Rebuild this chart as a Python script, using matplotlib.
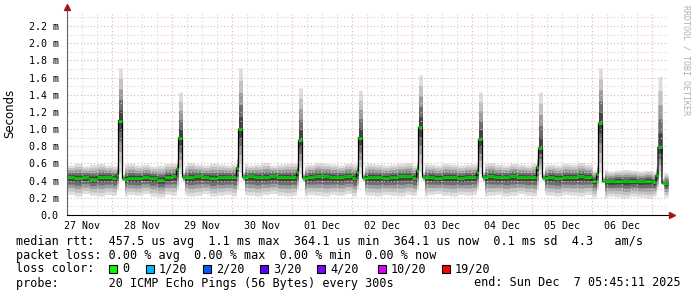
import numpy as np
import matplotlib
matplotlib.use("Agg")
import matplotlib.pyplot as plt
from matplotlib.patches import Rectangle

# hours counted from 27 Nov 00:00, median rtt in ms
t_start = 6.0
t_end = 246.4
step_h = 3.0

base_med = [0.44, 0.43, 0.44, 0.42, 0.44, 0.44,
            0.43, 0.42, 0.43, 0.43, 0.44, 0.43, 0.41, 0.44,
            0.45, 0.44, 0.44, 0.45, 0.44, 0.43, 0.44, 0.44,
            0.44, 0.44, 0.45, 0.44, 0.44, 0.45, 0.44, 0.44,
            0.44, 0.43, 0.44, 0.45, 0.45, 0.44, 0.44, 0.45,
            0.43, 0.43, 0.44, 0.44, 0.43, 0.44, 0.45, 0.45,
            0.43, 0.44, 0.44, 0.43, 0.44, 0.44, 0.43, 0.44,
            0.44, 0.44, 0.45, 0.44, 0.44, 0.45, 0.44, 0.44,
            0.44, 0.43, 0.44, 0.43, 0.44, 0.44, 0.45, 0.44,
            0.40, 0.39, 0.39, 0.40, 0.39, 0.40, 0.39, 0.40,
            0.38, 0.37]
base_hi = [0.58, 0.60, 0.57, 0.59, 0.60, 0.58,
           0.57, 0.59, 0.60, 0.58, 0.59, 0.57, 0.58, 0.60,
           0.60, 0.58, 0.61, 0.59, 0.58, 0.60, 0.59, 0.58,
           0.59, 0.60, 0.58, 0.59, 0.61, 0.58, 0.59, 0.60,
           0.60, 0.58, 0.59, 0.61, 0.60, 0.59, 0.58, 0.60,
           0.59, 0.58, 0.60, 0.59, 0.58, 0.59, 0.60, 0.61,
           0.58, 0.60, 0.59, 0.58, 0.60, 0.59, 0.58, 0.59,
           0.59, 0.60, 0.61, 0.59, 0.58, 0.60, 0.59, 0.58,
           0.60, 0.58, 0.59, 0.58, 0.60, 0.59, 0.61, 0.59,
           0.52, 0.53, 0.51, 0.52, 0.53, 0.52, 0.51, 0.52,
           0.50, 0.49]
base_lo = [0.24, 0.22, 0.25, 0.23, 0.22, 0.24,
           0.23, 0.22, 0.24, 0.23, 0.25, 0.22, 0.21, 0.24,
           0.23, 0.24, 0.22, 0.23, 0.25, 0.22, 0.23, 0.24,
           0.22, 0.24, 0.23, 0.22, 0.24, 0.25, 0.23, 0.22,
           0.23, 0.22, 0.24, 0.23, 0.22, 0.24, 0.23, 0.25,
           0.22, 0.24, 0.23, 0.22, 0.24, 0.23, 0.22, 0.24,
           0.23, 0.22, 0.24, 0.25, 0.23, 0.22, 0.24, 0.23,
           0.24, 0.22, 0.23, 0.24, 0.22, 0.23, 0.25, 0.23,
           0.22, 0.24, 0.23, 0.22, 0.24, 0.23, 0.22, 0.24,
           0.21, 0.20, 0.22, 0.21, 0.20, 0.22, 0.21, 0.20,
           0.22, 0.21]

# daily spikes shortly after midnight
spike_t = [26.6, 50.6, 74.6, 98.6, 122.6, 146.6, 170.6, 194.6, 218.6, 242.4]
spike_med = [1.10, 0.90, 1.00, 0.87, 0.90, 1.02, 0.88, 0.78, 1.07, 0.79]
spike_hi = [1.71, 1.43, 1.71, 1.48, 1.45, 1.63, 1.43, 1.43, 1.71, 1.61]
spike_lo = [0.50, 0.48, 0.50, 0.48, 0.48, 0.50, 0.48, 0.47, 0.50, 0.45]
spike_pre = [0.47, 0.535, 0.55, 0.50, 0.50, 0.52, 0.50, 0.56, 0.48, 0.46]
post_lo = [0.40, 0.39, 0.40, 0.39, 0.40, 0.40, 0.39, 0.40, 0.38, 0.36]

day_labels = ['27 Nov', '28 Nov', '29 Nov', '30 Nov', '01 Dec',
              '02 Dec', '03 Dec', '04 Dec', '05 Dec', '06 Dec']

loss_labels = ['0', '1/20', '2/20', '3/20', '4/20', '10/20', '19/20']
loss_colors = ['#00ff00', '#00b8ff', '#0059ff', '#5e00ff',
               '#7e00ff', '#dd00ff', '#ff0000']


# resample everything on a fine grid of cells so spikes can be overlaid
dt = 0.1
edges = np.arange(t_start, t_end + dt, dt)
centres = edges[:-1] + dt / 2
idx = np.clip(((centres - t_start) // step_h).astype(int), 0, len(base_med) - 1)
med = np.array(base_med)[idx]
hi = np.array(base_hi)[idx]
lo = np.array(base_lo)[idx]

for i, ts in enumerate(spike_t):
    pre = (centres >= ts - 0.8) & (centres < ts)
    med[pre] = spike_pre[i]
    hi[pre] = spike_pre[i] + 0.12
    lo[pre] = 0.30
    sp = (centres >= ts) & (centres < ts + 1.6)
    med[sp] = spike_med[i]
    hi[sp] = spike_hi[i]
    lo[sp] = spike_lo[i]
    post = (centres >= ts + 1.6) & (centres < ts + 2.4)
    lo[post] = post_lo[i]
    hi[post] = med[post] + 0.06

fig = plt.figure(figsize=(6.97, 2.97), dpi=100)
W, H = 697.0, 297.0
ax = fig.add_axes([67 / W, 1 - 215 / H, (668 - 67) / W, (215 - 12) / H])
ax.set_xlim(t_start, t_end)
ax.set_ylim(0, 2.363)

# smoke
yv_med = np.append(med, med[-1])
yv_lo = np.append(lo, lo[-1])
yv_hi = np.append(hi, hi[-1])
for frac, col in zip([1.0, 0.8, 0.6, 0.4, 0.2],
                     ['#dedede', '#c2c2c2', '#9c9c9c', '#6e6e6e', '#424242']):
    ax.fill_between(edges, yv_med - frac * (yv_med - yv_lo),
                    yv_med + frac * (yv_hi - yv_med),
                    step='post', color=col, lw=0, zorder=1)

# grid
for y in np.arange(0.1, 2.36, 0.1):
    major = int(round(y * 10)) % 2 == 0
    ax.axhline(y, color='#e6b0b0' if major else '#d4d4d4', lw=0.8,
               ls=(0, (1, 2)), zorder=2)
for x in np.arange(12, 246, 6):
    major = int(x) % 24 == 0
    ax.axvline(x, color='#e6b0b0' if major else '#d4d4d4', lw=0.8,
               ls=(0, (1, 2)), zorder=2)

# median line: black connectors, green levels (loss 0)
ax.step(edges, yv_med, where='post', color='black', lw=0.9, zorder=3)
ax.hlines(med, edges[:-1], edges[1:], color='#00ff00', lw=2.0, zorder=4)

mono = 'DejaVu Sans Mono'
yt = np.arange(0, 2.3, 0.2)
ax.set_yticks(yt)
ax.set_yticklabels(['0.0' if v < 0.01 else '%.1f m' % v for v in yt],
                   family=mono, fontsize=7.2)
ax.set_xticks(np.arange(12, 240, 24))
ax.set_xticklabels(day_labels, family=mono, fontsize=7.2)
ax.tick_params(axis='both', length=0)
ax.tick_params(axis='y', pad=6)
ax.tick_params(axis='x', pad=4)

for s in ['top', 'right']:
    ax.spines[s].set_visible(False)
ax.spines['left'].set_color('#606060')
ax.spines['bottom'].set_color('black')
ax.spines['left'].set_bounds(0, 2.40)
ax.plot([0], [1.025], marker='^', color='#a01818', ms=4, transform=ax.transAxes,
        clip_on=False, zorder=6)
ax.plot([1.005, 1.0055], [0, 0], color='black', lw=0.8, transform=ax.transAxes,
        clip_on=False)
ax.plot([1.007], [0], marker='>', color='#a01818', ms=4, transform=ax.transAxes,
        clip_on=False, zorder=6)
ax.spines['left'].set_zorder(5)
ax.spines['bottom'].set_zorder(5)

fig.text(10 / W, 1 - 113 / H, 'Seconds', rotation=90, ha='center', va='center',
         fontsize=8.5, family='DejaVu Sans')
fig.text(686 / W, 1 - 5 / H, 'RRDTOOL / TOBI OETIKER', rotation=270,
         ha='center', va='top', fontsize=6, family=mono, color='#b0b0b0')

fs = 8.5
fig.text(16 / W, 1 - 241 / H,
         'median rtt:  457.5 us avg  1.1 ms max  364.1 us min  364.1 us now  0.1 ms sd  4.3   am/s',
         family=mono, fontsize=fs, va='center')
fig.text(16 / W, 1 - 255 / H,
         'packet loss: 0.00 % avg  0.00 % max  0.00 % min  0.00 % now',
         family=mono, fontsize=fs, va='center')
fig.text(16 / W, 1 - 269 / H, 'loss color:', family=mono, fontsize=fs, va='center')
box_x = [109, 146, 203, 260, 317, 378, 442]
for bx, lab, col in zip(box_x, loss_labels, loss_colors):
    fig.add_artist(Rectangle((bx / W, 1 - 273 / H), 8 / W, 8 / H,
                             transform=fig.transFigure, facecolor=col,
                             edgecolor='black', lw=0.8))
    fig.text((bx + 13) / W, 1 - 269 / H, lab, family=mono, fontsize=fs, va='center')
fig.text(16 / W, 1 - 283 / H,
         'probe:       20 ICMP Echo Pings (56 Bytes) every 300s',
         family=mono, fontsize=fs, va='center')
fig.text(681 / W, 1 - 283 / H, 'end: Sun Dec  7 05:45:11 2025',
         family=mono, fontsize=fs, va='center', ha='right')

fig.savefig('out.png', dpi=100)
